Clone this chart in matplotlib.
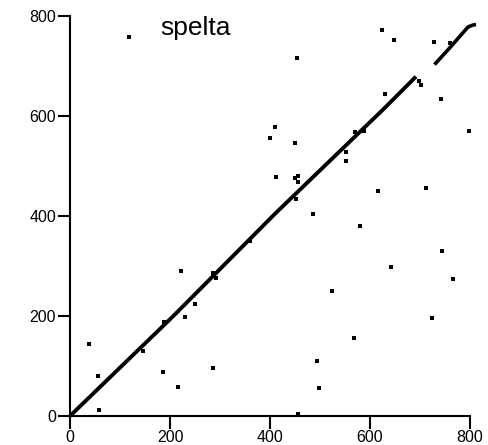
import numpy as np
import matplotlib.pyplot as plt
import matplotlib

plt.rc('font', family=['Liberation Sans', 'DejaVu Sans'], size=11.5)

# main diagonal (two runs of the dot plot)
diag1_x = [0, 207, 410, 627, 692]
diag1_y = [0, 200, 404, 613, 678]
diag2_x = [729, 760, 796, 806, 812]
diag2_y = [702, 736, 777, 781, 782]

# isolated matches
dots_x = [117, 453, 623, 647, 727, 629, 697, 701, 741, 760,
	409, 400, 449, 411, 449, 455, 455, 551, 551, 569, 587, 797,
	615, 711, 451, 485, 579, 743, 641, 765, 523,
	221, 249, 285, 292, 359,
	37, 55, 57, 185, 215, 229, 285, 187, 145,
	723, 567, 493, 497, 455]
dots_y = [757, 715, 771, 751, 747, 643, 670, 661, 633, 745,
	577, 555, 545, 477, 475, 479, 467, 527, 509, 567, 570, 569,
	449, 455, 433, 404, 379, 329, 297, 273, 249,
	289, 223, 285, 275, 349,
	143, 79, 11, 87, 57, 197, 95, 187, 129,
	195, 155, 109, 55, 3]

title = 'spelta'
ticks = [0, 200, 400, 600, 800]

fig = plt.figure(figsize=(4.88, 4.45), dpi=100)
ax1 = fig.add_axes([70/488, 29/445, 400/488, 400.5/445])

ax1.plot(diag1_x, diag1_y, color='black', linewidth=2.8, solid_capstyle='butt', clip_on=False)
ax1.plot(diag2_x, diag2_y, color='black', linewidth=2.6, solid_capstyle='butt', clip_on=False)
ax1.plot(dots_x, dots_y, 's', color='black', markersize=2.2, markeredgewidth=0, clip_on=False)

ax1.set_xlim(0, 800)
ax1.set_ylim(0, 800)
ax1.set_xticks(ticks)
ax1.set_yticks(ticks)

for side in ['top', 'right']:
	ax1.spines[side].set_visible(False)
for side in ['left', 'bottom']:
	ax1.spines[side].set_linewidth(1.5)

ax1.tick_params(direction='out', length=9, width=1.5, pad=1, labelsize=11.5)

ax1.text(0.314, 0.951, title, transform=ax1.transAxes, ha='center', va='baseline', fontsize=19)

plt.savefig('out.png', dpi=100)
